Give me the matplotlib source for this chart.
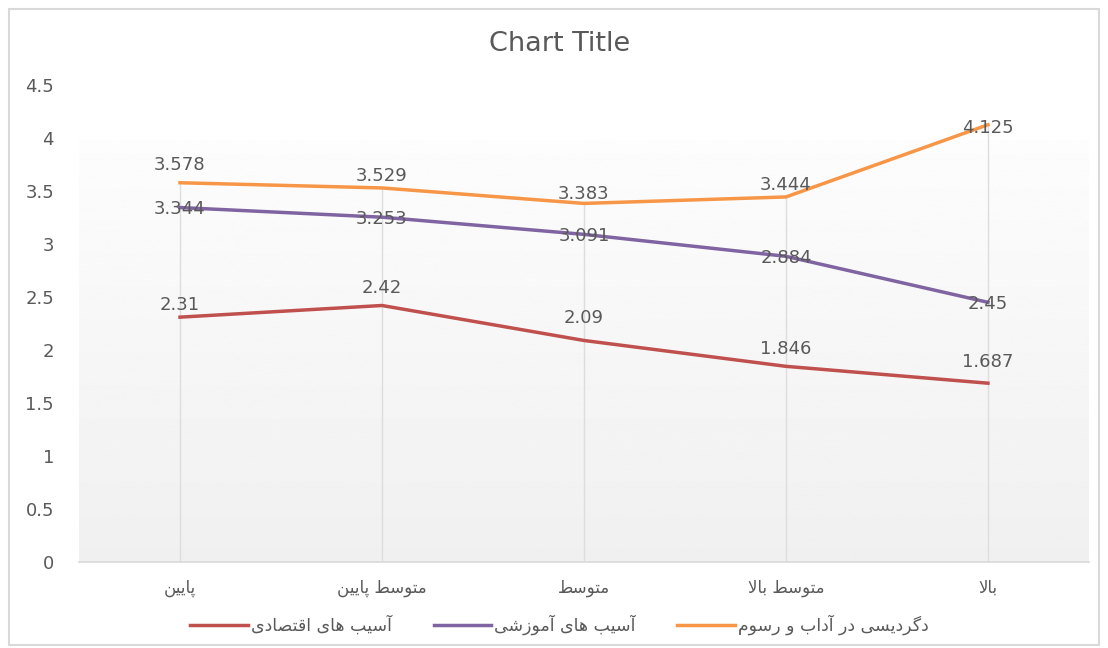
# Persian line chart (Excel style) - recreated with matplotlib
import numpy as np
import matplotlib
matplotlib.use("Agg")
import matplotlib.pyplot as plt
from matplotlib.ticker import FuncFormatter

# Data
categories = ["پایین", "متوسط پایین", "متوسط", "متوسط بالا", "بالا"]
series_names = ["آسیب های اقتصادی", "آسیب های آموزشی", "دگردیسی در آداب و رسوم"]
economic    = [2.31, 2.42, 2.09, 1.846, 1.687]
educational = [3.344, 3.253, 3.091, 2.884, 2.45]
customs     = [3.578, 3.529, 3.383, 3.444, 4.125]
y_ticks = [0, 0.5, 1, 1.5, 2, 2.5, 3, 3.5, 4, 4.5]

COLORS = ["#C0504D", "#8064A2", "#F79646"]
TEXT = "#595959"

# minimal Arabic/Persian shaping (matplotlib has no text shaping / bidi)
FORMS = {
    "ا": ("\uFE8D", "\uFE8E"), "آ": ("\uFE81", "\uFE82"),
    "د": ("\uFEA9", "\uFEAA"), "ر": ("\uFEAD", "\uFEAE"),
    "ز": ("\uFEAF", "\uFEB0"), "و": ("\uFEED", "\uFEEE"),
    "ب": ("\uFE8F", "\uFE90", "\uFE91", "\uFE92"),
    "پ": ("\uFB56", "\uFB57", "\uFB58", "\uFB59"),
    "ت": ("\uFE95", "\uFE96", "\uFE97", "\uFE98"),
    "س": ("\uFEB1", "\uFEB2", "\uFEB3", "\uFEB4"),
    "ش": ("\uFEB5", "\uFEB6", "\uFEB7", "\uFEB8"),
    "ص": ("\uFEB9", "\uFEBA", "\uFEBB", "\uFEBC"),
    "ط": ("\uFEC1", "\uFEC2", "\uFEC3", "\uFEC4"),
    "ق": ("\uFED5", "\uFED6", "\uFED7", "\uFED8"),
    "گ": ("\uFB92", "\uFB93", "\uFB94", "\uFB95"),
    "ل": ("\uFEDD", "\uFEDE", "\uFEDF", "\uFEE0"),
    "م": ("\uFEE1", "\uFEE2", "\uFEE3", "\uFEE4"),
    "ن": ("\uFEE5", "\uFEE6", "\uFEE7", "\uFEE8"),
    "ه": ("\uFEE9", "\uFEEA", "\uFEEB", "\uFEEC"),
    "ی": ("\uFBFC", "\uFBFD", "\uFBFE", "\uFBFF"),
}


def shape(s):
    s = s.replace("ي", "ی").replace("ى", "ی")
    out = []
    i = 0
    n = len(s)
    while i < n:
        c = s[i]
        if c not in FORMS:
            out.append(c)
            i += 1
            continue
        prev = s[i - 1] if i > 0 else ""
        prev_joins = prev in FORMS and len(FORMS[prev]) == 4
        # lam-alef ligature
        if c == "ل" and i + 1 < n and s[i + 1] == "ا":
            out.append("\uFEFC" if prev_joins else "\uFEFB")
            i += 2
            continue
        f = FORMS[c]
        nxt = s[i + 1] if i + 1 < n else ""
        next_joins = len(f) == 4 and nxt in FORMS
        if prev_joins and next_joins:
            out.append(f[3])
        elif prev_joins:
            out.append(f[1])
        elif next_joins:
            out.append(f[2])
        else:
            out.append(f[0])
        i += 1
    return "".join(out[::-1])


plt.rcParams["font.family"] = ["DejaVu Sans"]

fig = plt.figure(figsize=(11.08, 6.48), dpi=100)
ax = fig.add_axes([0.0713, 0.1327, 0.9115, 0.7361])

# outer chart border
fig.patches.append(plt.Rectangle((0.008, 0.005), 0.984, 0.981, transform=fig.transFigure,
                                 fill=False, edgecolor="#D9D9D9", linewidth=1.5))

x = np.arange(len(categories))

# gradient fill in plot area (light at top, grey at bottom)
grad = np.linspace(0.99, 0.94, 256).reshape(-1, 1)
ax.imshow(grad, cmap="gray", vmin=0, vmax=1, aspect="auto", origin="upper",
          extent=[-0.5, 4.5, 0, 3.98], zorder=0)

# drop lines
tops = np.max([economic, educational, customs], axis=0)
ax.vlines(x, 0, tops, color="#DDDDDD", linewidth=1, zorder=1)

all_series = [economic, educational, customs]
for vals, name, col in zip(all_series, series_names, COLORS):
    ax.plot(x, vals, color=col, linewidth=2.5, label=shape(name), zorder=3,
            solid_joinstyle="round")

# data labels
red_off = [2, 6, 10, 6, 9]
org_off = [6, 2, 0, 2, -9]
for i, v in enumerate(economic):
    ax.annotate(f"{v:g}", (x[i], v), xytext=(0, red_off[i]), textcoords="offset points",
                ha="center", va="bottom", fontsize=13, color=TEXT, zorder=4)
for i, v in enumerate(educational):
    ax.annotate(f"{v:g}", (x[i], v), xytext=(0, -1), textcoords="offset points",
                ha="center", va="center", fontsize=13, color=TEXT, zorder=4)
for i, v in enumerate(customs):
    ax.annotate(f"{v:g}", (x[i], v), xytext=(0, org_off[i]), textcoords="offset points",
                ha="center", va="bottom", fontsize=13, color=TEXT, zorder=4)

ax.set_xlim(-0.5, 4.5)
ax.set_ylim(0, 4.5)
ax.set_yticks(y_ticks)
ax.yaxis.set_major_formatter(FuncFormatter(lambda v, p: f"{v:g}"))
ax.set_xticks(x)
ax.set_xticklabels([shape(c) for c in categories])
ax.tick_params(axis="both", length=0, colors=TEXT, labelsize=13)
ax.tick_params(axis="x", pad=12, labelsize=12)
ax.tick_params(axis="y", pad=18)
for s in ["top", "right", "left"]:
    ax.spines[s].set_visible(False)
ax.spines["bottom"].set_color("#D9D9D9")
ax.spines["bottom"].set_linewidth(1.2)

fig.text(0.505, 0.932, "Chart Title", ha="center", va="center", fontsize=19.5, color=TEXT)

leg = fig.legend(loc="center", bbox_to_anchor=(0.505, 0.036), ncol=3, frameon=False,
                 fontsize=12.5, handlelength=3.3, handletextpad=0.2, columnspacing=2.4)
for t in leg.get_texts():
    t.set_color(TEXT)

fig.savefig("out.png", dpi=100)
